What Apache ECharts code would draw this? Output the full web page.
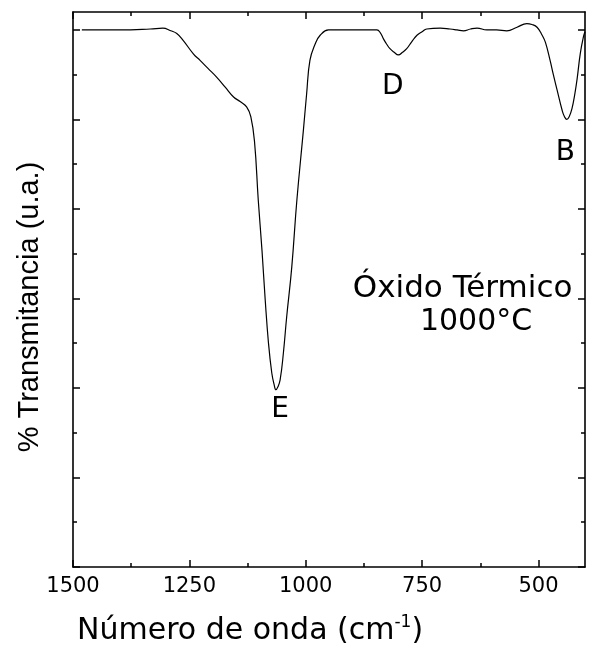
<!DOCTYPE html>
<html>
<head>
<meta charset="utf-8">
<script src="https://cdn.jsdelivr.net/npm/echarts@6/dist/echarts.min.js"></script>
<style>
html,body{margin:0;padding:0;background:#fff;}
#chart{width:592px;height:645px;}
</style>
</head>
<body>
<div id="chart"></div>
<script>
// Wavenumber (cm-1) of each sampled point of the spectrum
const wavenumbers = [1481,1400,1334,1307,1290,1277,1263,1241,1227,1210,1191,1173,1155,1141,1127,1118,1110,1102,1094,1087,1080,1073,1068,1064,1060,1055,1048,1041,1030,1019,1005,998,991,980,969,951,905,847,840,833,826,819,810,801,792,783,772,761,750,740,711,690,675,661,646,632,611,590,568,546,525,514,503,492,485,475,468,460,449,444,439,434,428,422,417,410,403,400];
// Transmittance (arbitrary units)
const transmittance = [6.00,6.00,6.01,6.02,5.99,5.96,5.88,5.73,5.66,5.57,5.47,5.36,5.25,5.20,5.14,5.03,4.75,4.10,3.54,2.98,2.50,2.17,2.04,1.98,2.01,2.09,2.39,2.79,3.35,4.10,4.88,5.29,5.66,5.84,5.94,6.00,6.00,6.00,5.97,5.90,5.84,5.79,5.75,5.72,5.75,5.79,5.87,5.94,5.98,6.01,6.02,6.01,6.00,5.99,6.01,6.02,6.00,6.00,5.99,6.03,6.07,6.06,6.03,5.94,5.86,5.66,5.50,5.33,5.10,5.03,5.00,5.03,5.12,5.28,5.45,5.74,5.93,5.98];

const xMajorTicks = [1500,1250,1000,750,500];
const xMinorTicks = [1375,1125,875,625];
const yMajorTicks = [0,1,2,3,4,5,6];
const yMinorTicks = [0.5,1.5,2.5,3.5,4.5,5.5];

const annotationTexts = ['D','B','E','Óxido Térmico','1000°C'];
const annotationX = [813,442,1055,663,634];
const annotationY = [5.37,4.63,1.76,3.11,2.74];
const annotationSize = [28,28,28,31,30];

const xTitle = 'Número de onda (cm';
const xTitleSup = '-1';
const yTitle = '% Transmitancia (u.a.)';

const FONT = 'DejaVu Sans';
const BLACK = '#000';

const chart = echarts.init(document.getElementById('chart'), null, {renderer:'canvas'});

function xAxisDef(position, ticks, len, showLine, showLabel) {
  return {
    type:'value', position:position, inverse:true, min:400, max:1500,
    axisLine:{show:showLine, onZero:false, lineStyle:{color:BLACK, width:1.6}},
    axisTick:{show:true, inside:true, length:len, customValues:ticks, lineStyle:{color:BLACK, width:1.5}},
    axisLabel:{show:showLabel, customValues:ticks, margin:9, fontSize:21, fontFamily:FONT, color:BLACK,
      formatter:function(v){return String(v);}},
    splitLine:{show:false}
  };
}
function yAxisDef(position, ticks, len, showLine) {
  return {
    type:'value', position:position, min:0, max:6.2,
    axisLine:{show:showLine, onZero:false, lineStyle:{color:BLACK, width:1.6}},
    axisTick:{show:true, inside:true, length:len, customValues:ticks, lineStyle:{color:BLACK, width:1.5}},
    axisLabel:{show:false},
    splitLine:{show:false}
  };
}

const option = {
  animation:false,
  backgroundColor:'#fff',
  grid:{left:73, top:12, right:7, bottom:78, containLabel:false},
  xAxis:[
    xAxisDef('bottom', xMajorTicks, 7, true, true),
    xAxisDef('bottom', xMinorTicks, 4, false, false),
    xAxisDef('top', xMajorTicks, 7, true, false),
    xAxisDef('top', xMinorTicks, 4, false, false)
  ],
  yAxis:[
    yAxisDef('left', yMajorTicks, 7, true),
    yAxisDef('left', yMinorTicks, 4, false),
    yAxisDef('right', yMajorTicks, 7, true),
    yAxisDef('right', yMinorTicks, 4, false)
  ],
  series:[
    {
      type:'line', xAxisIndex:0, yAxisIndex:0,
      data: wavenumbers.map((w,i)=>[w, transmittance[i]]),
      smooth:0.45, showSymbol:false, symbol:'none',
      lineStyle:{color:BLACK, width:1.2}
    },
    {
      type:'scatter', xAxisIndex:0, yAxisIndex:0,
      symbolSize:1, itemStyle:{color:'rgba(0,0,0,0)'},
      data: annotationTexts.map((t,i)=>({name:t, value:[annotationX[i], annotationY[i]],
        label:{fontSize:annotationSize[i], color:BLACK, opacity:1}})),
      label:{show:true, position:'inside', formatter:'{b}', color:BLACK, fontFamily:FONT, fontSize:28,
        textBorderWidth:0, opacity:1},
      emphasis:{disabled:true},
      silent:true
    }
  ],
  graphic:[
    {
      type:'text', left:77, top:614,
      style:{
        text:'{a|' + xTitle + '}{s|' + xTitleSup + '}{a|)}',
        rich:{
          a:{fontSize:30, fontFamily:FONT, fill:BLACK, lineHeight:34},
          s:{fontSize:17, fontFamily:FONT, fill:BLACK, verticalAlign:'top', lineHeight:20}
        }
      }
    },
    {
      type:'text', x:30, y:307, rotation:Math.PI/2,
      style:{text:yTitle, fontSize:29, fontFamily:'Liberation Sans', fill:BLACK, align:'center', verticalAlign:'middle'}
    }
  ]
};
chart.setOption(option);
</script>
</body>
</html>
